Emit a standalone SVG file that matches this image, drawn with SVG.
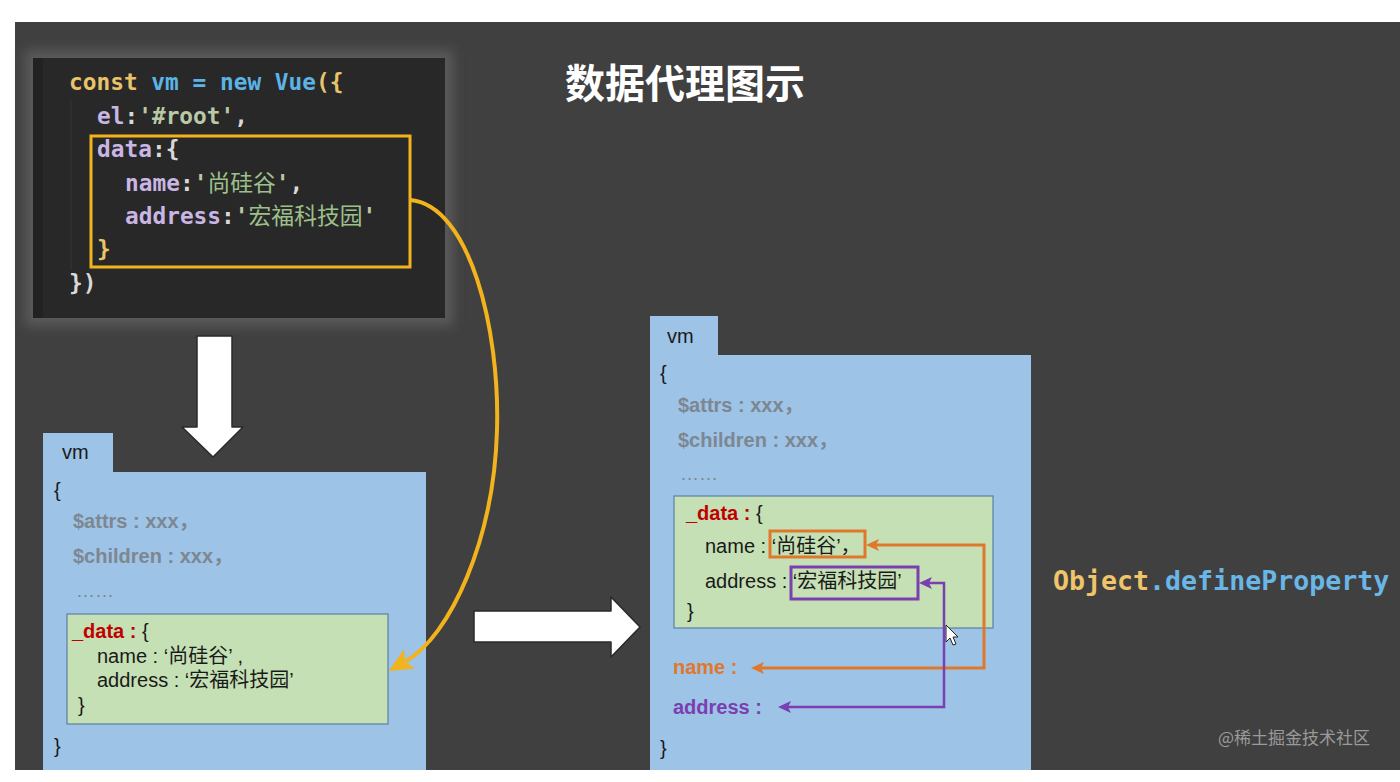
<svg xmlns="http://www.w3.org/2000/svg" width="1400" height="782" viewBox="0 0 1400 782">
<style>
.code{font-family:"DejaVu Sans Mono","Liberation Mono","Noto Sans CJK SC",monospace;font-weight:bold;font-size:22.8px}
.kw{fill:#e8c36a}
.bl{fill:#5cb4e6}
.pp{fill:#c9b6e4}
.wt{fill:#d9d9d9}
.st{fill:#b9c9a6}
.cn{fill:#9dc08b;font-weight:normal}
.lbl{font-family:"Liberation Sans","Noto Sans CJK SC",sans-serif;font-size:20px;fill:#1a1a1a}
.gray{font-family:"Liberation Sans","Noto Sans CJK SC",sans-serif;font-size:20px;font-weight:bold;fill:#7d8791}
.dots{font-family:"Liberation Sans",sans-serif;font-size:19px;fill:#7d8791}
.vmbox{fill:#9dc3e6}
.green{fill:#c5e0b4;stroke:#5b7fa6;stroke-width:1.2}
.red{fill:#c00000;font-weight:bold}
.whiteArrow{fill:#ffffff;stroke:#2a2a2a;stroke-width:1.5;stroke-linejoin:round}
</style>
<defs>
<filter id="glow" x="-20%" y="-20%" width="140%" height="140%"><feGaussianBlur stdDeviation="6"/></filter>
<marker id="ya" markerUnits="userSpaceOnUse" markerWidth="26" markerHeight="22" refX="4" refY="11" orient="auto"><path d="M0,0 L24,11 L0,22 L5,11 z" fill="#f2b31c"/></marker>
<marker id="oa" markerUnits="userSpaceOnUse" markerWidth="14" markerHeight="12" refX="3" refY="6" orient="auto-start-reverse"><path d="M0,0 L13,6 L0,12 L3,6 z" fill="#e0782c"/></marker>
<marker id="pa" markerUnits="userSpaceOnUse" markerWidth="14" markerHeight="12" refX="3" refY="6" orient="auto-start-reverse"><path d="M0,0 L13,6 L0,12 L3,6 z" fill="#7a3fb0"/></marker>
</defs>

<rect x="0" y="0" width="1400" height="782" fill="#ffffff"/>
<rect x="15" y="22" width="1385" height="748" fill="#404040"/>

<!-- title -->
<text x="565" y="98" font-family="'Noto Sans CJK SC',sans-serif" font-weight="bold" font-size="40" fill="#ffffff">数据代理图示</text>

<!-- code box -->
<g id="code">
<rect x="25" y="50" width="428" height="276" fill="#5a5a5a" filter="url(#glow)"/>
<rect x="33" y="58" width="412" height="260" fill="#282828"/>
<rect x="33" y="58" width="10" height="260" fill="#222222"/>
<line x1="71" y1="100" x2="71" y2="270" stroke="#343434" stroke-width="1"/>
<text class="code" x="69" y="90"><tspan class="kw">const</tspan><tspan class="bl"> vm = new Vue</tspan><tspan class="kw">({</tspan></text>
<text class="code" x="97" y="124"><tspan class="pp">el</tspan><tspan class="wt">:</tspan><tspan class="st">'#root'</tspan><tspan class="wt">,</tspan></text>
<text class="code" x="97" y="157"><tspan class="pp">data</tspan><tspan class="wt">:{</tspan></text>
<text class="code" x="125" y="191"><tspan class="pp">name</tspan><tspan class="wt">:</tspan><tspan class="st">'</tspan><tspan class="cn">尚硅谷</tspan><tspan class="st">'</tspan><tspan class="wt">,</tspan></text>
<text class="code" x="125" y="224"><tspan class="pp">address</tspan><tspan class="wt">:</tspan><tspan class="st">'</tspan><tspan class="cn">宏福科技园</tspan><tspan class="st">'</tspan></text>
<text class="code kw" x="97" y="257">}</text>
<text class="code wt" x="69" y="291">})</text>
<rect x="91" y="136" width="319" height="131" fill="none" stroke="#f2b31c" stroke-width="3"/>
</g>

<!-- left vm -->
<g id="vm-left">
<path class="vmbox" d="M43,433 H113 V472 H426 V770 H43 Z"/>
<text class="lbl" x="62" y="459" font-size="23">vm</text>
<text class="lbl" x="54" y="497">{</text>
<text class="gray" x="73" y="528">$attrs : xxx，</text>
<text class="gray" x="73" y="563">$children : xxx，</text>
<text class="dots" x="76" y="597">……</text>
<rect class="green" x="67" y="614" width="321" height="110"/>
<text class="lbl" x="72" y="638"><tspan class="red">_data :</tspan> {</text>
<text class="lbl" x="97" y="663">name : ‘尚硅谷’ ,</text>
<text class="lbl" x="97" y="687">address : ‘宏福科技园’</text>
<text class="lbl" x="78" y="712">}</text>
<text class="lbl" x="54" y="753">}</text>
</g>

<!-- right vm -->
<g id="vm-right">
<path class="vmbox" d="M650,316 H718 V355 H1031 V770 H650 Z"/>
<text class="lbl" x="667" y="343" font-size="23">vm</text>
<text class="lbl" x="660" y="380">{</text>
<text class="gray" x="678" y="412">$attrs : xxx，</text>
<text class="gray" x="678" y="447">$children : xxx，</text>
<text class="dots" x="680" y="480">……</text>
<rect class="green" x="674" y="496" width="319" height="132"/>
<text class="lbl" x="686" y="520"><tspan class="red">_data :</tspan> {</text>
<text class="lbl" x="705" y="553">name : ‘尚硅谷’，</text>
<text class="lbl" x="705" y="588">address : ‘宏福科技园’</text>
<text class="lbl" x="687" y="618">}</text>
<rect x="770" y="531" width="95" height="26" fill="none" stroke="#e0782c" stroke-width="3"/>
<rect x="791" y="567" width="127" height="32" fill="none" stroke="#7a3fb0" stroke-width="3"/>
<text x="673" y="674" font-family="'Liberation Sans',sans-serif" font-size="20" font-weight="bold" fill="#e0782c">name :</text>
<text x="673" y="714" font-family="'Liberation Sans',sans-serif" font-size="20" font-weight="bold" fill="#7a3fb0">address :</text>
<text class="lbl" x="660" y="755">}</text>
<path d="M946,625 L946,642 L950,638 L953,645 L956,644 L953,637 L958,637 Z" fill="#ffffff" stroke="#222" stroke-width="1"/>
</g>

<!-- Object.defineProperty -->
<text x="1053" y="590" font-family="'DejaVu Sans Mono','Liberation Mono',monospace" font-weight="bold" font-size="26.6"><tspan fill="#efc46a">Object</tspan><tspan fill="#6ab6e6">.defineProperty</tspan></text>

<!-- watermark -->
<text x="1218" y="744" font-family="'Noto Sans CJK SC',sans-serif" font-size="17" fill="#9a9a9a">@稀土掘金技术社区</text>

<!-- connectors -->
<g id="connectors">
<path d="M410,200 C470,205 500,330 497,430 C494,540 450,636 406,661" fill="none" stroke="#f2b31c" stroke-width="4" marker-end="url(#ya)"/>
<polygon class="whiteArrow" points="197,336 232,336 232,427 243,427 213,457 182,427 197,427"/>
<polygon class="whiteArrow" points="474,611 611,611 611,597 640,627 611,657 611,642 474,642"/>
<path d="M876,545 L984,545 L984,668 L761,668" fill="none" stroke="#e0782c" stroke-width="3" marker-start="url(#oa)" marker-end="url(#oa)"/>
<path d="M929,583 L944,583 L944,707 L788,707" fill="none" stroke="#7a3fb0" stroke-width="2.5" marker-start="url(#pa)" marker-end="url(#pa)"/>
</g>
</svg>
